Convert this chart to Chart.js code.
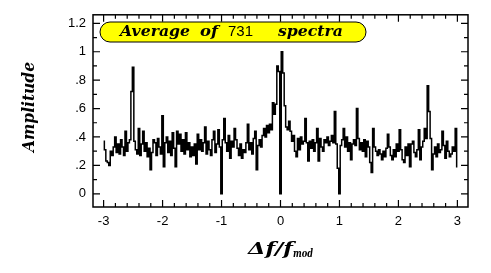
<!DOCTYPE html>
<html>
<head>
<meta charset="utf-8">
<script src="https://cdn.jsdelivr.net/npm/chart.js@4.4.1/dist/chart.umd.min.js"></script>
<style>
  body { margin: 0; background: #fff; }
  canvas { display: block; }
</style>
</head>
<body>
<canvas id="spectrum" width="491" height="273"></canvas>
<script>
/* ================= DATA ================= */
// histogram bins: first bin centre and bin width (Δf/f_mod units)
const BIN_START = -3;
const BIN_WIDTH = 0.025;

// average amplitude per bin (241 bins, -3 .. 3)
const amplitude = [
  0.37, 0.31, 0.23, 0.22, 0.20, 0.30, 0.27, 0.33, 0.40, 0.29,
  0.35, 0.28, 0.38, 0.33, 0.27, 0.44, 0.30, 0.36, 0.38, 0.72,
  0.89, 0.37, 0.31, 0.28, 0.46, 0.27, 0.35, 0.44, 0.30, 0.36,
  0.26, 0.32, 0.17, 0.29, 0.38, 0.36, 0.27, 0.39, 0.33, 0.28,
  0.55, 0.19, 0.36, 0.40, 0.29, 0.37, 0.27, 0.43, 0.32, 0.19,
  0.44, 0.35, 0.42, 0.30, 0.38, 0.28, 0.43, 0.31, 0.36, 0.26,
  0.33, 0.27, 0.35, 0.21, 0.42, 0.31, 0.38, 0.30, 0.36, 0.47,
  0.28, 0.37, 0.31, 0.27, 0.38, 0.44, 0.29, 0.35, 0.45, 0.33,
  0.00, 0.38, 0.53, 0.36, 0.30, 0.41, 0.25, 0.37, 0.33, 0.46,
  0.38, 0.32, 0.27, 0.35, 0.25, 0.31, 0.29, 0.36, 0.49, 0.31,
  0.36, 0.28, 0.39, 0.44, 0.17, 0.34, 0.38, 0.33, 0.41, 0.46,
  0.40, 0.48, 0.43, 0.49, 0.45, 0.64, 0.56, 0.63, 0.90, 0.86,
  0.00, 1.00, 0.85, 0.62, 0.47, 0.45, 0.51, 0.44, 0.37, 0.41,
  0.30, 0.26, 0.39, 0.31, 0.40, 0.35, 0.37, 0.53, 0.36, 0.23,
  0.37, 0.32, 0.38, 0.30, 0.36, 0.46, 0.23, 0.39, 0.33, 0.30,
  0.38, 0.36, 0.40, 0.34, 0.37, 0.41, 0.36, 0.58, 0.35, 0.18,
  0.00, 0.34, 0.38, 0.46, 0.33, 0.40, 0.30, 0.36, 0.24, 0.35,
  0.38, 0.34, 0.60, 0.39, 0.31, 0.36, 0.30, 0.38, 0.26, 0.37,
  0.33, 0.22, 0.15, 0.46, 0.33, 0.30, 0.27, 0.31, 0.28, 0.24,
  0.30, 0.26, 0.32, 0.42, 0.33, 0.27, 0.24, 0.31, 0.26, 0.35,
  0.30, 0.45, 0.31, 0.24, 0.22, 0.33, 0.27, 0.35, 0.19, 0.35,
  0.37, 0.29, 0.26, 0.31, 0.45, 0.24, 0.33, 0.37, 0.46, 0.39,
  0.76, 0.58, 0.39, 0.17, 0.28, 0.33, 0.26, 0.35, 0.29, 0.31,
  0.44, 0.34, 0.25, 0.37, 0.30, 0.26, 0.28, 0.33, 0.30, 0.46,
  0.19
];

const xTicks = [-3, -2, -1, 0, 1, 2, 3];
const yTicks = [0, 0.2, 0.4, 0.6, 0.8, 1, 1.2];
const yTickLabels = ["0", ".2", ".4", ".6", ".8", "1", "1.2"];
const X_MINOR = 0.2;
const Y_MINOR = 0.1;

const titleWords = ["Average", "of", "731", "spectra"];

/* ================= HELPERS ================= */
const SERIF = '"DejaVu Serif", serif';
const SANS = '"Liberation Sans", Arial, sans-serif';

function fitText(ctx, text, x, y, w) {
  const m = ctx.measureText(text).width;
  ctx.save();
  ctx.translate(x, y);
  ctx.scale(w / m, 1);
  ctx.fillText(text, 0, 0);
  ctx.restore();
}

/* ================= FRAME, TICKS, TITLES ================= */
const framePlugin = {
  id: "frame",
  afterDraw(chart) {
    const { ctx, chartArea: a, scales: { x, y } } = chart;
    ctx.save();
    ctx.strokeStyle = "#000";
    ctx.lineWidth = 1.5;
    ctx.strokeRect(a.left, a.top, a.right - a.left, a.bottom - a.top);

    ctx.lineWidth = 1.2;
    ctx.beginPath();
    for (let v = -3; v <= 3.001; v += X_MINOR) {
      const px = x.getPixelForValue(v);
      const major = Math.abs(v - Math.round(v)) < 1e-6;
      const len = major ? 7 : 4;
      ctx.moveTo(px, a.bottom); ctx.lineTo(px, a.bottom - len);
      ctx.moveTo(px, a.top); ctx.lineTo(px, a.top + len);
    }
    for (let v = 0; v <= 1.2001; v += Y_MINOR) {
      const py = y.getPixelForValue(v);
      const major = Math.abs(v * 5 - Math.round(v * 5)) < 1e-6;
      const len = major ? 7 : 4;
      ctx.moveTo(a.left, py); ctx.lineTo(a.left + len, py);
      ctx.moveTo(a.right, py); ctx.lineTo(a.right - len, py);
    }
    ctx.stroke();

    // legend pill
    const L = 100, R = 366, T = 22, B = 42, r = 10;
    ctx.beginPath();
    ctx.moveTo(L + r, T);
    ctx.lineTo(R - r, T);
    ctx.arc(R - r, T + r, r, -Math.PI / 2, Math.PI / 2);
    ctx.lineTo(L + r, B);
    ctx.arc(L + r, T + r, r, Math.PI / 2, Math.PI * 1.5);
    ctx.closePath();
    ctx.fillStyle = "#ffff00";
    ctx.fill();
    ctx.lineWidth = 1;
    ctx.stroke();

    ctx.fillStyle = "#000";
    ctx.textBaseline = "alphabetic";
    ctx.font = "bold italic 15px " + SERIF;
    fitText(ctx, titleWords[0], 120, 36, 70);
    fitText(ctx, titleWords[1], 200, 36, 18);
    ctx.font = "15px " + SANS;
    fitText(ctx, titleWords[2], 228, 36, 25);
    ctx.font = "bold italic 15px " + SERIF;
    fitText(ctx, titleWords[3], 278, 36, 65);

    // y title
    ctx.save();
    ctx.translate(34, 107);
    ctx.rotate(-Math.PI / 2);
    ctx.font = "bold italic 16px " + SERIF;
    ctx.textBaseline = "alphabetic";
    fitText(ctx, "Amplitude", -45, 0, 90);
    ctx.restore();

    // x title
    ctx.font = "bold italic 16px " + SERIF;
    fitText(ctx, "\u0394f/f", 248, 254, 45);
    ctx.font = "bold italic 11px " + SERIF;
    fitText(ctx, "mod", 293, 257, 20);

    ctx.restore();
  }
};

/* ================= CHART ================= */
new Chart(document.getElementById("spectrum"), {
  type: "line",
  data: {
    datasets: [{
      data: amplitude.map((v, i) => ({ x: BIN_START + i * BIN_WIDTH, y: v })),
      borderColor: "#000",
      borderWidth: 1.5,
      pointRadius: 0,
      stepped: "middle",
      fill: false
    }]
  },
  options: {
    responsive: false,
    devicePixelRatio: 1,
    animation: false,
    layout: { padding: { left: 0, right: 23, top: 13, bottom: 0 } },
    plugins: { legend: { display: false }, tooltip: { enabled: false } },
    scales: {
      x: {
        type: "linear",
        min: -3.18,
        max: 3.18,
        afterBuildTicks: s => { s.ticks = xTicks.map(v => ({ value: v })); },
        afterFit: s => { s.height = 66; },
        ticks: {
          color: "#000",
          font: { family: SANS, size: 13 },
          padding: 7,
          maxRotation: 0,
          callback: v => String(v)
        },
        grid: { display: false, drawTicks: false },
        border: { display: false }
      },
      y: {
        min: -0.093,
        max: 1.26,
        afterBuildTicks: s => { s.ticks = yTicks.map(v => ({ value: v })); },
        afterFit: s => { s.width = 93; },
        ticks: {
          color: "#000",
          font: { family: SANS, size: 13 },
          padding: 7,
          callback: (v, i) => yTickLabels[i]
        },
        grid: { display: false, drawTicks: false },
        border: { display: false }
      }
    }
  },
  plugins: [framePlugin]
});
</script>
</body>
</html>
